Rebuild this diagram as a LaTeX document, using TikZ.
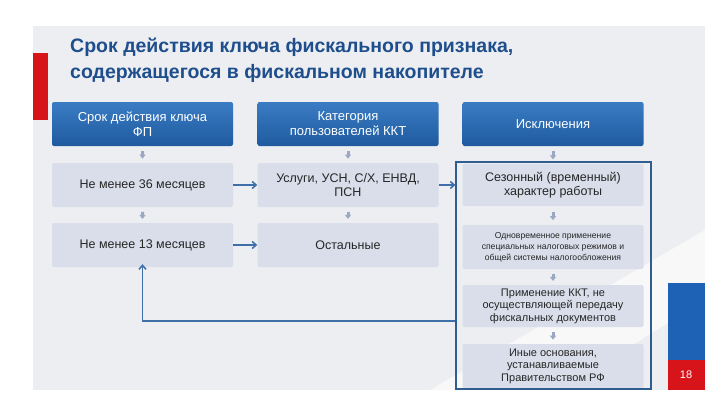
\documentclass[tikz,border=0pt]{standalone}
\usepackage{fontspec}
\setmainfont{Liberation Sans}
\usetikzlibrary{arrows.meta,calc}
\definecolor{bg}{HTML}{EDEEF1}
\definecolor{ttl}{HTML}{1E4E8C}
\definecolor{hdtop}{HTML}{3A7CC4}
\definecolor{hdbot}{HTML}{1F5A9E}
\definecolor{cell}{HTML}{D9DEEA}
\definecolor{arr}{HTML}{3E6FA8}
\definecolor{sarr}{HTML}{9AA8C4}
\definecolor{frm}{HTML}{2F5D8F}
\definecolor{rd}{HTML}{D7141A}
\definecolor{bl}{HTML}{1D62B4}
\begin{document}
\begin{tikzpicture}[x=1pt,y=-1pt,
  hdr/.style={minimum width=181pt,minimum height=44pt,rounded corners=2pt,top color=hdtop,bottom color=hdbot,text=white,align=center,font=\fontsize{13}{15}\selectfont,inner sep=1pt},
  cl/.style={minimum width=181pt,minimum height=44pt,rounded corners=2pt,fill=cell,text=black!85,align=center,font=\fontsize{12.5}{14}\selectfont,inner sep=1pt},
  sm/.style={-{Triangle[length=4pt,width=6pt]},sarr,line width=3pt,shorten >=0pt},
  ar/.style={-{Straight Barb[length=4pt,width=7pt]},arr,line width=1.5pt}]
\useasboundingbox (0,0) rectangle (720,405);
\fill[white] (0,0) rectangle (720,405);
\fill[bg] (33,26) rectangle (705,390);
\fill[white!60!bg] (560,390) -- (705,300) -- (705,230) -- (430,390) -- cycle;
\fill[rd] (33,53) rectangle (48,120);
\fill[bl] (668,283) rectangle (705,360);
\fill[rd] (668,360) rectangle (705,390);
\node[text=white,font=\fontsize{11}{12}\selectfont] (pg) at (686,375) {18};
\node[anchor=north west,text=ttl,align=left,font=\bfseries\fontsize{19.5}{26}\selectfont,inner sep=0pt] (title) at (70,38) {Срок действия ключа фискального признака,\\содержащегося в фискальном накопителе};
% headers
\node[hdr] (h1) at (142.5,124) {Срок действия ключа\\ФП};
\node[hdr] (h2) at (348,124) {Категория\\пользователей ККТ};
\node[hdr] (h3) at (553,124) {Исключения};
% col1
\node[cl] (a1) at (142.5,185) {Не менее 36 месяцев};
\node[cl] (a2) at (142.5,245) {Не менее 13 месяцев};
% col2
\node[cl] (b1) at (348,185) {Услуги, УСН, С/Х, ЕНВД,\\ПСН};
\node[cl] (b2) at (348,245) {Остальные};
% col3
\node[cl,minimum height=42pt] (c1) at (553,185) {Сезонный (временный)\\характер работы};
\node[cl,minimum height=44pt,font=\fontsize{8.6}{11}\selectfont] (c2) at (553,247) {Одновременное применение\\специальных налоговых режимов и\\общей системы налогообложения};
\node[cl,minimum height=42pt,font=\fontsize{11}{12.5}\selectfont] (c3) at (553,306) {Применение ККТ, не\\осуществляющей передачу\\фискальных документов};
\node[cl,minimum height=44pt,font=\fontsize{11}{12.5}\selectfont] (c4) at (553,366) {Иные основания,\\устанавливаемые\\Правительством РФ};
\node[draw=frm,line width=1.2pt,minimum width=195pt,minimum height=227pt,inner sep=0pt] (frame) at (553.5,275.5) {};
% small arrows
\foreach \u/\l in {h1/a1,a1/a2,h2/b1,b1/b2,h3/c1,c1/c2,c2/c3,c3/c4}{
  \draw[sm] ($(\u.south)!0.3!(\l.north)$) -- ($(\u.south)!0.75!(\l.north)$);
}
% connectors
\draw[ar] (a1.east) -- (b1.west);
\draw[ar] (a2.east) -- (b2.west);
\draw[ar] (b1.east) -- (frame.west |- b1.east);
\coordinate (fb) at (frame.west |- 0,321);
\draw[ar] (fb) -| ([yshift=3pt]a2.south);
\end{tikzpicture}
\end{document}
